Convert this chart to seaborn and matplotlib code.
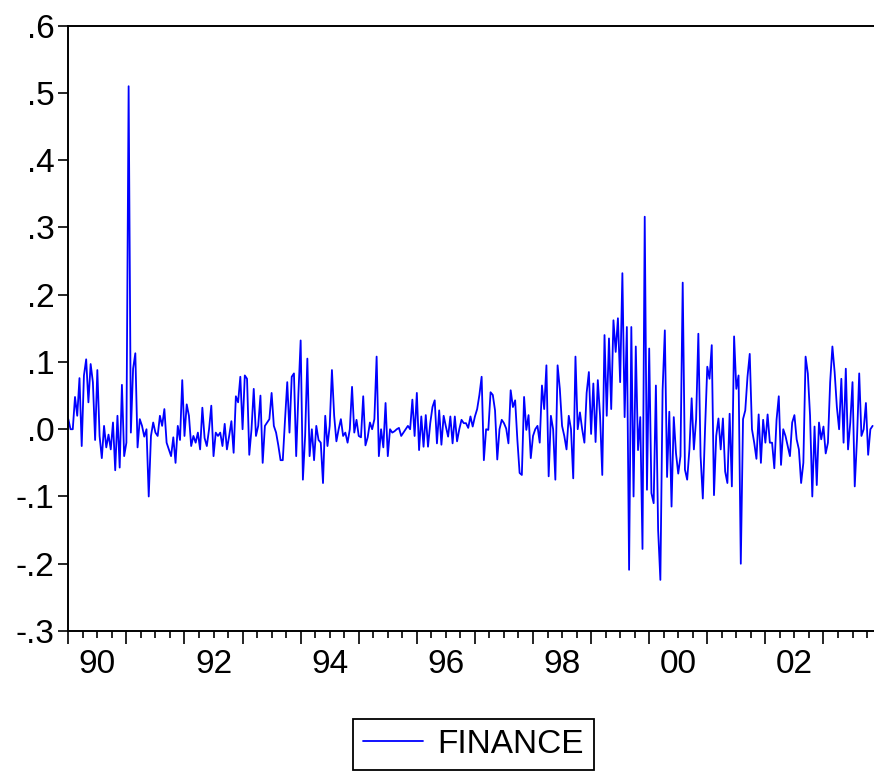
import numpy as np
import pandas as pd
import matplotlib
matplotlib.use("Agg")
import matplotlib.pyplot as plt
from matplotlib.ticker import FixedLocator, NullFormatter
import seaborn as sns

# ---------------- data ----------------
start_year = 1990
obs_per_year = 26
series_name = "FINANCE"

y1990 = [0.015, 0.0, 0.0, 0.048, 0.02, 0.076, -0.025, 0.08, 0.104, 0.04, 0.097, 0.07, -0.016,
         0.088, -0.01, -0.043, 0.005, -0.027, -0.008, -0.03, 0.01, -0.061, 0.02, -0.057, 0.066, -0.04]
y1991 = [-0.02, 0.51, -0.005, 0.09, 0.113, -0.027, 0.015, 0.005, -0.011, 0.0, -0.1, -0.01, 0.01,
         -0.005, -0.01, 0.02, 0.005, 0.03, -0.02, -0.03, -0.04, -0.012, -0.05, 0.005, -0.016, 0.073]
y1992 = [-0.01, 0.037, 0.02, -0.025, -0.01, -0.02, -0.005, -0.03, 0.032, -0.013, -0.025, 0.0, 0.035,
         -0.04, -0.005, -0.01, -0.005, -0.025, 0.008, -0.03, -0.01, 0.012, -0.035, 0.049, 0.04, 0.078]
y1993 = [0.0, 0.08, 0.075, -0.038, 0.0, 0.06, -0.01, 0.005, 0.05, -0.05, 0.005, 0.01, 0.015,
         0.054, 0.005, -0.005, -0.024, -0.046, -0.046, 0.014, 0.07, -0.005, 0.078, 0.083, -0.04, 0.053]
y1994 = [0.132, -0.075, -0.01, 0.105, -0.04, 0.0, -0.046, 0.005, -0.016, -0.02, -0.08, 0.02, -0.025,
         0.005, 0.088, 0.02, -0.018, 0.0, 0.015, -0.01, -0.005, -0.02, 0.0, 0.063, -0.005, 0.014]
y1995 = [-0.01, -0.012, 0.049, -0.024, -0.012, 0.01, 0.0, 0.015, 0.108, -0.04, 0.0, -0.027, 0.039,
         -0.04, 0.0, -0.005, -0.003, 0.0, 0.002, -0.01, -0.005, 0.0, 0.005, 0.0, 0.044, -0.01]
y1996 = [0.054, -0.031, 0.019, -0.026, 0.021, -0.026, 0.009, 0.033, 0.043, -0.021, 0.028, -0.023, 0.02,
         0.004, -0.011, 0.019, -0.021, 0.019, -0.018, 0.0, 0.014, 0.009, 0.009, 0.002, 0.019, 0.004]
y1997 = [0.019, 0.03, 0.051, 0.078, -0.046, 0.0, -0.001, 0.055, 0.051, 0.028, -0.045, 0.0, 0.014,
         0.009, 0.001, -0.021, 0.058, 0.033, 0.043, -0.016, -0.065, -0.068, 0.048, -0.001, 0.021, -0.043]
y1998 = [-0.01, 0.0, 0.005, -0.02, 0.065, 0.03, 0.095, -0.07, 0.02, 0.0, -0.075, 0.095, 0.06,
         0.005, -0.01, -0.03, 0.02, 0.0, -0.073, 0.108, 0.0, 0.025, 0.0, -0.02, 0.054, 0.085]
y1999 = [-0.007, 0.068, -0.019, 0.073, 0.02, -0.068, 0.14, 0.02, 0.135, 0.03, 0.162, 0.115, 0.165,
         0.07, 0.232, 0.018, 0.152, -0.209, 0.152, -0.1, 0.123, -0.031, 0.018, -0.178, 0.316, -0.09]
y2000 = [0.12, -0.095, -0.11, 0.065, -0.15, -0.224, 0.058, 0.147, -0.071, 0.026, -0.115, 0.018, -0.036,
         -0.066, -0.04, 0.218, -0.06, -0.075, -0.03, 0.046, -0.03, 0.015, 0.142, -0.04, -0.103, 0.0]
y2001 = [0.093, 0.075, 0.125, -0.098, -0.01, 0.016, -0.03, 0.016, -0.063, -0.08, 0.023, -0.085, 0.138,
         0.06, 0.08, -0.2, 0.015, 0.028, 0.078, 0.112, 0.0, -0.02, -0.044, 0.022, -0.05, 0.014]
y2002 = [-0.02, 0.022, -0.02, -0.02, -0.058, 0.014, 0.049, -0.053, 0.0, -0.01, -0.025, -0.04, 0.01,
         0.021, -0.015, -0.03, -0.08, -0.05, 0.108, 0.083, 0.02, -0.1, 0.004, -0.083, 0.01, -0.015]
y2003 = [0.004, -0.036, -0.02, 0.07, 0.123, 0.085, 0.033, 0.0, 0.075, -0.02, 0.09, -0.03, 0.01,
         0.07, -0.085, -0.015, 0.083, -0.01, 0.0, 0.039, -0.038, 0.0, 0.005]

year_labels = ["90", "92", "94", "96", "98", "00", "02"]
label_years = [1990, 1992, 1994, 1996, 1998, 2000, 2002]
y_ticks = [-0.3, -0.2, -0.1, 0.0, 0.1, 0.2, 0.3, 0.4, 0.5, 0.6]
y_tick_labels = ["-.3", "-.2", "-.1", ".0", ".1", ".2", ".3", ".4", ".5", ".6"]

values = (y1990 + y1991 + y1992 + y1993 + y1994 + y1995 + y1996 + y1997 +
          y1998 + y1999 + y2000 + y2001 + y2002 + y2003)
t = start_year + np.arange(len(values)) / obs_per_year
df = pd.DataFrame({"t": t, series_name: values})

# ---------------- styling ----------------
sns.set_style("ticks")
plt.rcParams["font.family"] = ["Liberation Sans", "DejaVu Sans"]
plt.rcParams.update({"text.color": "black", "xtick.color": "black", "ytick.color": "black",
                     "xtick.labelcolor": "black", "ytick.labelcolor": "black",
                     "axes.edgecolor": "black"})

W, H = 874, 775
fig = plt.figure(figsize=(W / 100, H / 100), dpi=100)
ax_l, ax_r, ax_t, ax_b = 68.3, 874.0, 25.7, 631.0
ax = fig.add_axes([ax_l / W, 1 - ax_b / H, (ax_r - ax_l) / W, (ax_b - ax_t) / H])

sns.lineplot(data=df, x="t", y=series_name, ax=ax, color="#0000FF", linewidth=1.3,
             label=series_name)

ax.set_xlim(1990.0, 2003.87)
ax.set_ylim(-0.3, 0.6)
ax.set_xlabel("")
ax.set_ylabel("")

for s in ["left", "top", "bottom"]:
    ax.spines[s].set_linewidth(1.4)
    ax.spines[s].set_color("black")
ax.spines["right"].set_visible(False)

# y axis
ax.set_yticks(y_ticks)
ax.set_yticklabels(y_tick_labels, fontsize=24, color="black")
ax.tick_params(axis="y", direction="out", length=7, width=1.2, pad=3,
               color="black", labelcolor="black")

# x axis: yearly long ticks, quarterly short ticks, labels at mid-year
years = np.arange(1990, 2004)
ax.xaxis.set_major_locator(FixedLocator(years))
ax.xaxis.set_major_formatter(NullFormatter())
quarters = [y + q / 4 for y in years for q in (1, 2, 3) if y + q / 4 < 2003.87]
ax.xaxis.set_minor_locator(FixedLocator(quarters))
ax.tick_params(axis="x", which="major", direction="out", length=9.5, width=1.2, color="black")
ax.tick_params(axis="x", which="minor", direction="out", length=5, width=1.2, color="black")

sec = ax.secondary_xaxis("bottom")
sec.set_xticks([y + 0.5 for y in label_years])
sec.set_xticklabels(year_labels, fontsize=24, color="black")
sec.tick_params(axis="x", length=0, pad=13, labelcolor="black")
sec.spines["bottom"].set_visible(False)

# legend
handles, labels = ax.get_legend_handles_labels()
ax.get_legend().remove()
leg = fig.legend(handles, labels, loc="center", bbox_to_anchor=(473.5 / W, 1 - 744.5 / H),
                 frameon=True, fancybox=False, edgecolor="black", fontsize=24,
                 handlelength=1.8, handletextpad=0.45, borderpad=0.3, framealpha=1,
                 labelcolor="black")
leg.get_frame().set_linewidth(1.3)

fig.savefig("out.png", dpi=100)
